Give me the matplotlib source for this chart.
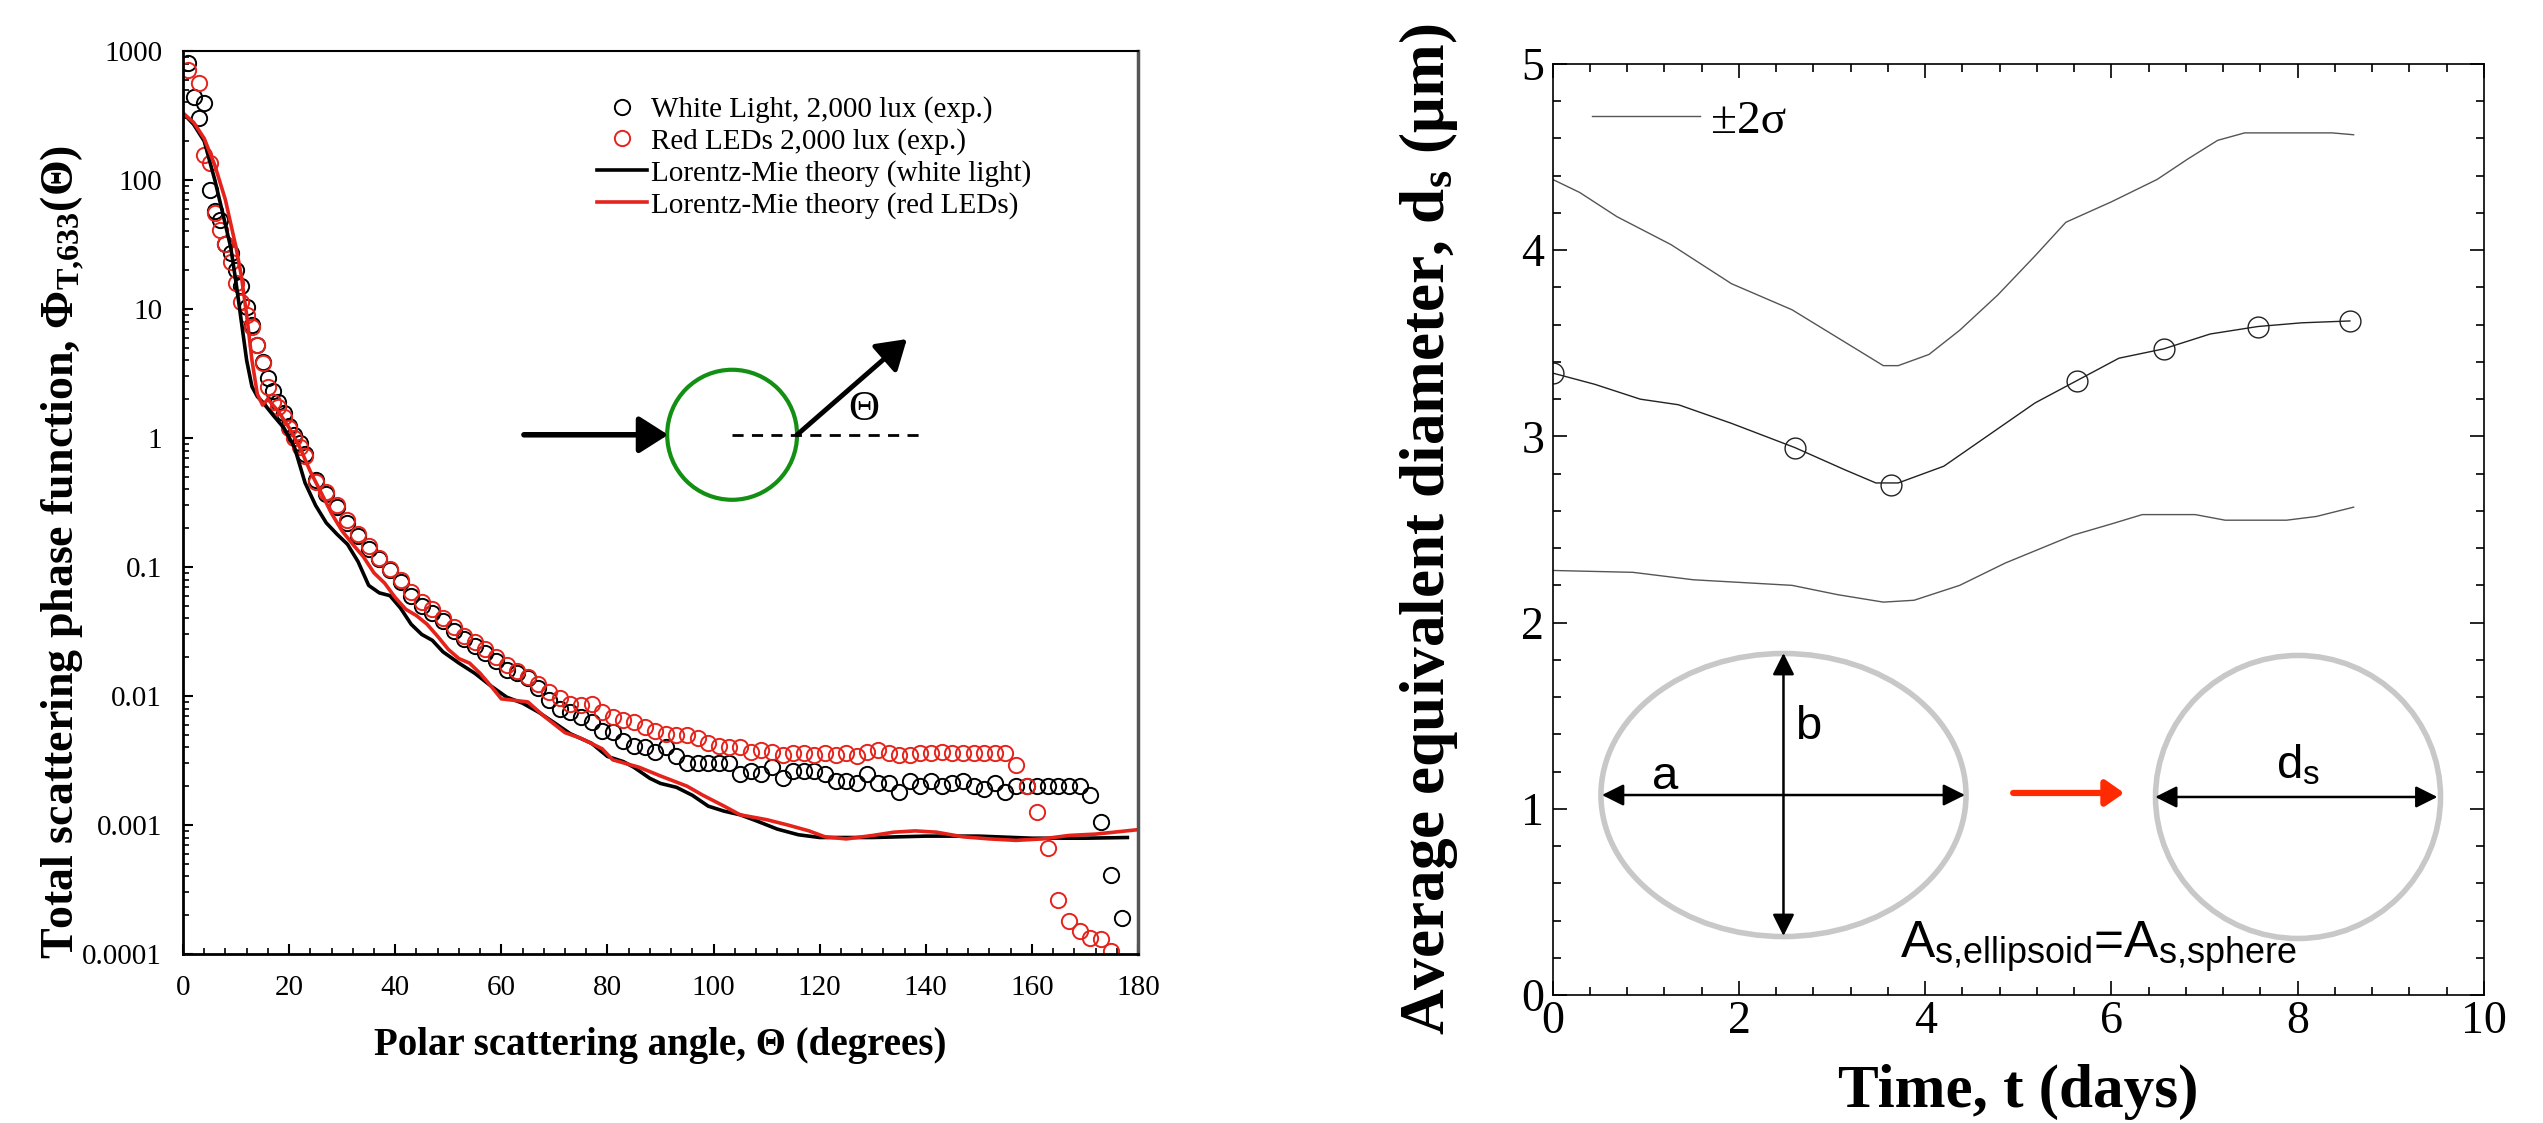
import matplotlib
matplotlib.use('Agg')
import matplotlib.pyplot as plt
from matplotlib.patches import Ellipse
from matplotlib.ticker import FixedLocator, LogLocator, MultipleLocator, NullFormatter

plt.rcParams['font.family'] = 'Liberation Serif'
plt.rcParams['mathtext.fontset'] = 'custom'
plt.rcParams['mathtext.rm'] = 'Liberation Serif'
plt.rcParams['mathtext.bf'] = 'Liberation Serif:bold'
plt.rcParams['mathtext.it'] = 'Liberation Serif:italic'

# ---- left panel: scattering phase function ----
white_exp_angle = list(range(1, 24)) + list(range(25, 178, 2))
white_exp_val = [811, 443, 301, 394, 83, 57, 49, 32, 27, 20, 15, 10.4, 7.5, 5.3, 3.9, 2.9, 2.3, 1.9,
                 1.55, 1.25, 1.05, 0.91, 0.75,
                 0.47, 0.37, 0.29, 0.22, 0.175, 0.138, 0.115, 0.094, 0.076, 0.060, 0.050, 0.044,
                 0.038, 0.032, 0.0275, 0.0243, 0.0216, 0.0186, 0.0160, 0.0150, 0.0138, 0.0115,
                 0.0093, 0.0080, 0.0075, 0.0069, 0.0063, 0.0054, 0.0053, 0.0045, 0.0041, 0.0040,
                 0.0037, 0.0040, 0.0034, 0.0030, 0.0030, 0.0030, 0.0030, 0.0030, 0.0025, 0.0026,
                 0.0025, 0.0028, 0.0023, 0.0026, 0.0026, 0.0026, 0.0025, 0.0022, 0.0022, 0.0021,
                 0.0025, 0.0021, 0.0021, 0.0018, 0.0022, 0.0020, 0.0022, 0.0020, 0.0021, 0.0022,
                 0.0020, 0.0019, 0.0021, 0.0018, 0.0020, 0.0020, 0.0020, 0.0020, 0.0020, 0.0020,
                 0.0020, 0.0017, 0.00105, 0.00041, 0.00019]

red_exp_angle = [1] + list(range(3, 24)) + list(range(25, 176, 2))
red_exp_val = [713, 568, 156, 136, 55, 41, 32, 23, 16, 11.4, 9, 7.3, 5.3, 3.8, 2.5, 1.9, 1.75, 1.46,
               1.2, 1.0, 0.85, 0.72,
               0.46, 0.38, 0.30, 0.23, 0.18, 0.145, 0.118, 0.097, 0.080, 0.064, 0.054, 0.047,
               0.040, 0.034, 0.029, 0.026, 0.023, 0.020, 0.0175, 0.0155, 0.014, 0.0123,
               0.0108, 0.0096, 0.0087, 0.0085, 0.0087, 0.0075, 0.0069, 0.0065, 0.0063, 0.0058,
               0.0054, 0.0051, 0.0050, 0.0050, 0.0047, 0.0043, 0.0041, 0.0040, 0.0040, 0.0037,
               0.0038, 0.0037, 0.0035, 0.0036, 0.0036, 0.0035, 0.0036, 0.0035, 0.0036, 0.0034,
               0.0037, 0.0038, 0.0036, 0.0035, 0.0035, 0.0036, 0.0036, 0.0037, 0.0036, 0.0036,
               0.0036, 0.0036, 0.0036, 0.0036, 0.0029, 0.0020, 0.00127, 0.00066, 0.00026,
               0.00018, 0.00015, 0.000134, 0.00013, 0.000105]

white_mie_angle = [0, 2, 4, 6, 8, 9, 10, 11, 12, 13, 14, 15, 17, 19, 21, 23, 25, 27, 29, 31, 33, 35,
                   37, 39, 41, 43, 45, 47, 49, 52, 55, 58, 61, 64, 67, 70, 73, 77, 80, 83, 85, 88,
                   90, 93, 96, 99, 102, 105, 108, 112, 116, 120, 130, 140, 150, 160, 170, 178]
white_mie_val = [330, 270, 200, 100, 45, 30, 16, 8, 4.0, 2.5, 2.1, 1.9, 1.5, 1.2, 0.85, 0.45, 0.30,
                 0.22, 0.18, 0.15, 0.11, 0.072, 0.063, 0.060, 0.048, 0.036, 0.030, 0.027, 0.022,
                 0.018, 0.015, 0.012, 0.0098, 0.0088, 0.0075, 0.0062, 0.0051, 0.0043, 0.0034,
                 0.0031, 0.0028, 0.0023, 0.0021, 0.00196, 0.0017, 0.0014, 0.00128, 0.00120,
                 0.00108, 0.00093, 0.00084, 0.00080, 0.00080, 0.00082, 0.00082, 0.00079,
                 0.00079, 0.00080]

red_mie_angle = [0, 2, 4, 6, 8, 10, 11, 12, 13, 14, 15, 16, 18, 20, 22, 24, 26, 28, 30, 32, 34, 36,
                 38, 40, 42, 44, 46, 48, 50, 52, 54, 56, 58, 60, 62, 65, 68, 72, 75, 79, 81, 86, 90,
                 95, 98, 102, 105, 110, 114, 118, 121, 125, 130, 134, 138, 142, 147, 152, 157, 162,
                 167, 172, 180]
red_mie_val = [330, 280, 210, 130, 70, 30, 18, 9, 4, 2.2, 1.8, 2.0, 1.6, 1.2, 0.85, 0.55, 0.38,
               0.26, 0.19, 0.15, 0.12, 0.09, 0.075, 0.058, 0.047, 0.042, 0.036, 0.029, 0.023,
               0.0195, 0.018, 0.015, 0.012, 0.0095, 0.0093, 0.0090, 0.0070, 0.0052, 0.0047,
               0.0039, 0.0032, 0.0028, 0.0024, 0.0020, 0.0017, 0.0014, 0.0012, 0.0011, 0.0010,
               0.00090, 0.00081, 0.00078, 0.00083, 0.00088, 0.00090, 0.00088, 0.00081, 0.00078,
               0.00076, 0.00078, 0.00083, 0.00085, 0.00092]

y_tick_values = [1e-4, 1e-3, 1e-2, 1e-1, 1, 10, 100, 1000]
y_tick_labels = ['0.0001', '0.001', '0.01', '0.1', '1', '10', '100', '1000']

# ---- right panel: equivalent diameter vs time ----
mean_t = [0, 0.45, 0.94, 1.35, 1.92, 2.6, 3.14, 3.47, 3.71, 4.2, 4.69, 5.18, 5.63, 6.08, 6.56,
          7.06, 7.57, 8.04, 8.56]
mean_d = [3.34, 3.28, 3.20, 3.17, 3.07, 2.94, 2.82, 2.75, 2.75, 2.84, 3.01, 3.18, 3.30, 3.42,
          3.47, 3.55, 3.59, 3.61, 3.62]
circle_t = [0, 2.6, 3.63, 5.63, 6.56, 7.57, 8.56]
circle_d = [3.34, 2.94, 2.74, 3.30, 3.47, 3.59, 3.62]

upper_t = [0, 0.29, 0.69, 1.27, 1.92, 2.57, 3.06, 3.55, 3.71, 4.04, 4.37, 4.78, 5.18, 5.51, 6.0,
           6.49, 6.82, 7.14, 7.43, 8.37, 8.6]
upper_d = [4.38, 4.31, 4.18, 4.03, 3.82, 3.68, 3.53, 3.38, 3.38, 3.44, 3.57, 3.76, 3.97, 4.15,
           4.26, 4.38, 4.49, 4.59, 4.63, 4.63, 4.62]

lower_t = [0, 0.86, 1.51, 2.57, 3.06, 3.55, 3.88, 4.37, 4.86, 5.59, 6.0, 6.33, 6.9, 7.22, 7.88,
           8.2, 8.6]
lower_d = [2.28, 2.27, 2.23, 2.20, 2.15, 2.11, 2.12, 2.20, 2.32, 2.47, 2.53, 2.58, 2.58, 2.55,
           2.55, 2.57, 2.62]

red_c = '#e5231b'

fig = plt.figure(figsize=(25.43, 11.23), dpi=100)

# ================= left panel =================
ax = fig.add_axes([0.07196, 0.15049, 0.37554, 0.80409])
ax.set_yscale('log')
ax.plot(white_exp_angle, white_exp_val, 'o', ms=11, mfc='none', mec='k', mew=1.4,
        label='White Light, 2,000 lux (exp.)')
ax.plot(red_exp_angle, red_exp_val, 'o', ms=11, mfc='none', mec=red_c, mew=1.4,
        label='Red LEDs 2,000 lux (exp.)')
ax.plot(white_mie_angle, white_mie_val, '-', color='k', lw=2.6,
        label='Lorentz-Mie theory (white light)')
ax.plot(red_mie_angle, red_mie_val, '-', color=red_c, lw=2.6,
        label='Lorentz-Mie theory (red LEDs)')

ax.set_xlim(0, 180)
ax.set_ylim(1e-4, 1000)
ax.xaxis.set_major_locator(MultipleLocator(20))
ax.xaxis.set_minor_locator(MultipleLocator(4))
ax.yaxis.set_major_locator(FixedLocator(y_tick_values))
ax.set_yticklabels(y_tick_labels)
ax.yaxis.set_minor_locator(LogLocator(base=10, subs=range(2, 10)))
ax.yaxis.set_minor_formatter(NullFormatter())
ax.tick_params(which='both', direction='in', top=False, right=False, labelsize=21, pad=15)
ax.tick_params(which='major', length=7, width=1.5)
ax.tick_params(which='minor', length=4, width=1.2)
for side in ['left', 'bottom']:
    ax.spines[side].set_linewidth(2)
ax.spines['top'].set_linewidth(1.5)
ax.spines['right'].set_linewidth(2.5)
ax.spines['right'].set_color('#555555')

ax.set_xlabel('Polar scattering angle, Θ (degrees)', fontsize=28, fontweight='bold')
ax.xaxis.set_label_coords(0.5, -0.081)
ax.set_ylabel(r'Total scattering phase function, Φ$_{\mathbf{T{,}633}}$(Θ)', fontsize=33,
              fontweight='bold')
ax.yaxis.set_label_coords(-0.103, 0.445)

ax.legend(loc='upper left', bbox_to_anchor=(0.4335, 0.95), frameon=False, fontsize=21,
          handlelength=1.71, handletextpad=0.14, labelspacing=0.17, borderpad=0,
          borderaxespad=0, numpoints=1)

# scattering sketch
ax.add_patch(Ellipse((0.575, 0.575), 0.136, 0.144, transform=ax.transAxes, fill=False,
                     ec='#139013', lw=3))
ax.annotate('', xy=(0.508, 0.575), xytext=(0.357, 0.575), xycoords='axes fraction',
            arrowprops=dict(arrowstyle='-|>,head_length=0.55,head_width=0.35', lw=4, color='k',
                            mutation_scale=32, shrinkA=0, shrinkB=0))
ax.plot([0.575, 0.775], [0.575, 0.575], transform=ax.transAxes, color='k', lw=2,
        dashes=(4, 3))
ax.annotate('', xy=(0.758, 0.681), xytext=(0.643, 0.575), xycoords='axes fraction',
            arrowprops=dict(arrowstyle='-|>,head_length=0.55,head_width=0.35', lw=3.5, color='k',
                            mutation_scale=32, shrinkA=0, shrinkB=0))
ax.text(0.713, 0.603, 'Θ', transform=ax.transAxes, fontsize=31, ha='center', va='center')

# ================= right panel =================
ax2 = fig.add_axes([0.61058, 0.11398, 0.36622, 0.82903])
ax2.plot(upper_t, upper_d, '-', color='#555555', lw=1.0, label='±2σ')
ax2.plot(lower_t, lower_d, '-', color='#555555', lw=1.0)
ax2.plot(mean_t, mean_d, '-', color='#222222', lw=1.0)
ax2.plot(circle_t, circle_d, 'o', ms=15, mfc='none', mec='#222222', mew=1.0)

ax2.set_xlim(0, 10)
ax2.set_ylim(0, 5)
ax2.xaxis.set_major_locator(MultipleLocator(2))
ax2.xaxis.set_minor_locator(MultipleLocator(0.4))
ax2.yaxis.set_major_locator(MultipleLocator(1))
ax2.yaxis.set_minor_locator(MultipleLocator(0.2))
ax2.tick_params(which='both', direction='in', top=True, right=True, labelsize=33)
ax2.tick_params(axis='y', pad=6)
ax2.tick_params(axis='x', pad=4)
ax2.tick_params(which='major', length=10, width=1.2)
ax2.tick_params(which='minor', length=6, width=1.2)
for side in ax2.spines:
    ax2.spines[side].set_linewidth(1.2)

ax2.set_xlabel('Time, t (days)', fontsize=44, fontweight='bold')
ax2.xaxis.set_label_coords(0.5, -0.074)
ax2.set_ylabel(r'Average equivalent diameter, d$_{\mathbf{s}}$ (μm)', fontsize=45.5,
               fontweight='bold')
ax2.yaxis.set_label_coords(-0.0995, 0.5)

ax2.legend(loc='center left', bbox_to_anchor=(0.042, 0.9388), frameon=False, fontsize=34,
           handlelength=2.3, handletextpad=0.23, borderpad=0, borderaxespad=0)

# ellipse -> sphere sketch
grey = '#c8c8c8'
dbl = dict(arrowstyle='<|-|>,head_length=0.6,head_width=0.3', lw=1.8, color='k',
           mutation_scale=22, shrinkA=0, shrinkB=0)
ax2.add_patch(Ellipse((0.2478, 0.2148), 0.392, 0.304, transform=ax2.transAxes, fill=False,
                      ec=grey, lw=4))
ax2.annotate('', xy=(0.4427, 0.2148), xytext=(0.0529, 0.2148), xycoords='axes fraction',
             arrowprops=dbl)
ax2.annotate('', xy=(0.2478, 0.3673), xytext=(0.2478, 0.0634), xycoords='axes fraction',
             arrowprops=dbl)
ax2.text(0.1206, 0.2342, 'a', transform=ax2.transAxes, fontsize=34, family='Liberation Sans',
         ha='center', va='center')
ax2.text(0.274, 0.2879, 'b', transform=ax2.transAxes, fontsize=34, family='Liberation Sans',
         ha='center', va='center')
ax2.annotate('', xy=(0.6136, 0.217), xytext=(0.4944, 0.217), xycoords='axes fraction',
             arrowprops=dict(arrowstyle='-|>,head_length=0.5,head_width=0.35', lw=4.5,
                             color='#ff2a00', mutation_scale=22, shrinkA=0, shrinkB=0))
ax2.add_patch(Ellipse((0.8003, 0.2127), 0.306, 0.304, transform=ax2.transAxes, fill=False,
                      ec=grey, lw=4))
ax2.annotate('', xy=(0.95, 0.2127), xytext=(0.6469, 0.2127), xycoords='axes fraction',
             arrowprops=dbl)
ax2.text(0.8003, 0.245, r'd$_\mathregular{s}$', transform=ax2.transAxes, fontsize=34,
         family='Liberation Sans', ha='center', va='center')
ax2.text(0.5856, 0.0397, r'A$_\mathregular{s{,}ellipsoid}$=A$_\mathregular{s{,}sphere}$',
         transform=ax2.transAxes, fontsize=37, family='Liberation Sans', ha='center',
         va='baseline')

fig.savefig('out.png', dpi=100)
